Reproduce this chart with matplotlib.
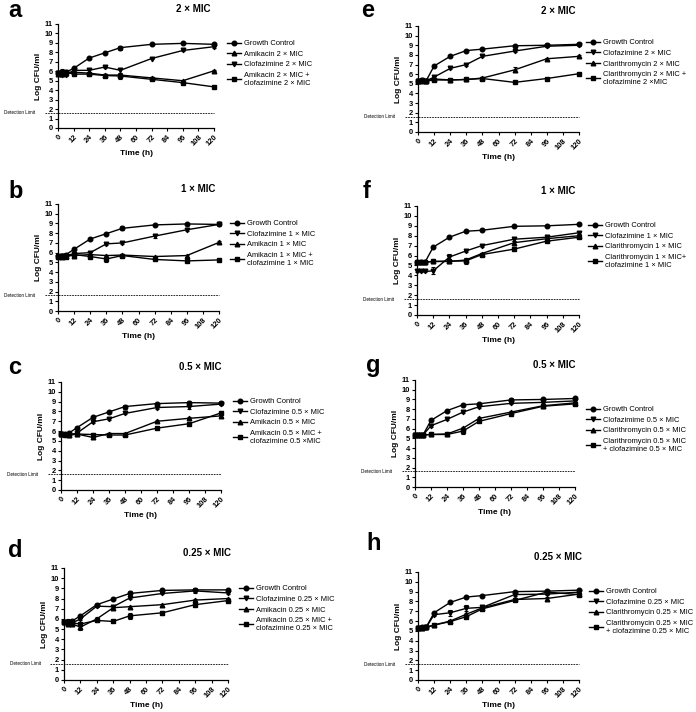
import numpy as np
import matplotlib
matplotlib.use("Agg")
import matplotlib.pyplot as plt
from matplotlib.lines import Line2D

plt.rcParams['font.family'] = ['Liberation Sans', 'DejaVu Sans']

FIG_W, FIG_H = 696, 712
TIME_H = [0, 3, 6, 12, 24, 36, 48, 72, 96, 120]
X_TICKS = list(range(0, 121, 12))
Y_TICKS = list(range(0, 12))
DETECTION_LIMIT = 1.6

# ---- panel a : amikacin / clofazimine 2 x MIC ----
A_GC = [5.8, 5.8, 5.9, 6.3, 7.4, 7.95, 8.5, 8.85, 8.95, 8.85]
A_GC_ERR = [0.15, 0.1, 0.1, 0.15, 0.1, 0.1, 0.2, 0.1, 0.1, 0.1]
A_AMK = [5.7, 5.7, 5.8, 5.9, 5.8, 5.6, 5.6, 5.3, 5.0, 6.05]
A_AMK_ERR = [0.1, 0.1, 0.1, 0.1, 0.1, 0.1, 0.1, 0.1, 0.1, 0.05]
A_CFZ = [5.8, 5.6, 5.6, 6.1, 6.1, 6.45, 6.1, 7.35, 8.2, 8.6]
A_CFZ_ERR = [0.15, 0.1, 0.1, 0.1, 0.15, 0.1, 0.25, 0.1, 0.1, 0.1]
A_CMB = [5.8, 5.9, 5.9, 5.7, 5.7, 5.55, 5.5, 5.15, 4.8, 4.35]
A_CMB_ERR = [0.15, 0.3, 0.15, 0.1, 0.15, 0.15, 0.35, 0.1, 0.1, 0.1]

# ---- panel b : 1 x MIC ----
B_GC = [5.7, 5.7, 5.8, 6.35, 7.4, 7.95, 8.5, 8.85, 8.95, 8.9]
B_GC_ERR = [0.1, 0.1, 0.1, 0.1, 0.1, 0.1, 0.2, 0.1, 0.1, 0.15]
B_CFZ = [5.6, 5.7, 5.7, 5.9, 6.0, 6.9, 7.0, 7.7, 8.35, 8.9]
B_CFZ_ERR = [0.3, 0.1, 0.1, 0.1, 0.15, 0.1, 0.1, 0.2, 0.1, 0.1]
B_AMK = [5.7, 5.6, 5.7, 5.7, 5.8, 5.7, 5.75, 5.6, 5.7, 7.05]
B_AMK_ERR = [0.1, 0.1, 0.1, 0.1, 0.1, 0.1, 0.1, 0.1, 0.1, 0.1]
B_CMB = [5.6, 5.7, 5.6, 5.8, 5.6, 5.35, 5.7, 5.3, 5.15, 5.25]
B_CMB_ERR = [0.3, 0.2, 0.2, 0.1, 0.15, 0.3, 0.1, 0.1, 0.1, 0.1]

# ---- panel c : 0.5 x MIC ----
C_GC = [5.7, 5.7, 5.8, 6.35, 7.4, 7.95, 8.5, 8.8, 8.9, 8.85]
C_GC_ERR = [0.1, 0.1, 0.1, 0.1, 0.1, 0.1, 0.2, 0.1, 0.15, 0.1]
C_CFZ = [5.7, 5.6, 5.6, 5.8, 6.95, 7.25, 7.8, 8.4, 8.5, 8.75]
C_CFZ_ERR = [0.1, 0.1, 0.1, 0.1, 0.1, 0.1, 0.1, 0.1, 0.3, 0.1]
C_AMK = [5.7, 5.7, 5.6, 5.7, 5.35, 5.75, 5.75, 7.0, 7.3, 7.55]
C_AMK_ERR = [0.1, 0.1, 0.1, 0.1, 0.2, 0.1, 0.1, 0.1, 0.1, 0.1]
C_CMB = [5.7, 5.6, 5.6, 5.7, 5.65, 5.6, 5.6, 6.3, 6.75, 7.85]
C_CMB_ERR = [0.15, 0.15, 0.1, 0.1, 0.2, 0.1, 0.15, 0.1, 0.15, 0.2]

# ---- panel d : 0.25 x MIC ----
D_GC = [5.7, 5.7, 5.8, 6.3, 7.4, 7.95, 8.5, 8.8, 8.85, 8.85]
D_GC_ERR = [0.1, 0.1, 0.1, 0.1, 0.1, 0.1, 0.2, 0.1, 0.1, 0.1]
D_CFZ = [5.7, 5.6, 5.6, 6.0, 7.25, 7.2, 8.05, 8.5, 8.75, 8.55]
D_CFZ_ERR = [0.1, 0.1, 0.1, 0.1, 0.1, 0.15, 0.1, 0.1, 0.25, 0.1]
D_AMK = [5.7, 5.5, 5.5, 5.2, 6.0, 7.1, 7.2, 7.4, 7.85, 8.0]
D_AMK_ERR = [0.1, 0.2, 0.2, 0.3, 0.15, 0.1, 0.1, 0.1, 0.1, 0.1]
D_CMB = [5.7, 5.7, 5.6, 5.5, 5.85, 5.75, 6.3, 6.6, 7.4, 7.8]
D_CMB_ERR = [0.1, 0.25, 0.3, 0.1, 0.15, 0.1, 0.3, 0.2, 0.1, 0.15]

# ---- panel e : clarithromycin / clofazimine 2 x MIC ----
E_GC = [5.3, 5.35, 5.3, 6.85, 7.85, 8.45, 8.6, 8.95, 9.0, 9.1]
E_GC_ERR = [0.1, 0.1, 0.1, 0.1, 0.1, 0.1, 0.1, 0.1, 0.1, 0.1]
E_CFZ = [5.3, 5.3, 5.3, 5.7, 6.6, 7.0, 7.85, 8.4, 8.9, 9.0]
E_CFZ_ERR = [0.1, 0.1, 0.1, 0.15, 0.1, 0.1, 0.1, 0.1, 0.1, 0.1]
E_CLR = [5.3, 5.3, 5.3, 5.5, 5.4, 5.45, 5.6, 6.45, 7.6, 7.85]
E_CLR_ERR = [0.1, 0.1, 0.1, 0.1, 0.1, 0.1, 0.1, 0.25, 0.1, 0.1]
E_CMB = [5.3, 5.35, 5.3, 5.4, 5.4, 5.45, 5.55, 5.15, 5.55, 6.05]
E_CMB_ERR = [0.1, 0.1, 0.1, 0.1, 0.1, 0.1, 0.1, 0.1, 0.1, 0.1]

# ---- panel f : 1 x MIC ----
F_GC = [5.3, 5.3, 5.35, 6.85, 7.85, 8.45, 8.55, 8.95, 9.0, 9.15]
F_GC_ERR = [0.1, 0.1, 0.1, 0.1, 0.1, 0.1, 0.1, 0.1, 0.1, 0.1]
F_CFZ = [4.4, 4.4, 4.4, 4.45, 5.85, 6.45, 7.0, 7.65, 7.85, 8.3]
F_CFZ_ERR = [0.1, 0.1, 0.1, 0.35, 0.35, 0.1, 0.1, 0.2, 0.2, 0.1]
F_CLR = [5.3, 5.3, 5.35, 5.4, 5.4, 5.55, 6.2, 7.3, 7.7, 8.0]
F_CLR_ERR = [0.1, 0.1, 0.1, 0.1, 0.1, 0.2, 0.1, 0.2, 0.15, 0.2]
F_CMB = [5.3, 5.35, 5.35, 5.4, 5.45, 5.45, 6.1, 6.65, 7.45, 7.85]
F_CMB_ERR = [0.1, 0.1, 0.1, 0.1, 0.1, 0.3, 0.1, 0.1, 0.1, 0.1]

# ---- panel g : 0.5 x MIC ----
G_GC = [5.3, 5.3, 5.35, 6.85, 7.85, 8.45, 8.55, 8.95, 9.0, 9.1]
G_GC_ERR = [0.1, 0.1, 0.1, 0.1, 0.1, 0.1, 0.1, 0.15, 0.1, 0.1]
G_CFZ = [5.3, 5.3, 5.35, 6.3, 6.95, 7.7, 8.25, 8.6, 8.7, 8.85]
G_CFZ_ERR = [0.1, 0.1, 0.1, 0.1, 0.1, 0.1, 0.1, 0.1, 0.1, 0.1]
G_CLR = [5.3, 5.3, 5.35, 5.4, 5.45, 6.05, 7.05, 7.7, 8.35, 8.65]
G_CLR_ERR = [0.1, 0.1, 0.1, 0.1, 0.1, 0.15, 0.1, 0.15, 0.1, 0.1]
G_CMB = [5.3, 5.3, 5.35, 5.4, 5.4, 5.75, 6.75, 7.55, 8.3, 8.55]
G_CMB_ERR = [0.1, 0.1, 0.1, 0.1, 0.1, 0.3, 0.1, 0.15, 0.1, 0.15]

# ---- panel h : 0.25 x MIC ----
H_GC = [5.3, 5.35, 5.35, 6.85, 7.9, 8.45, 8.6, 9.0, 9.05, 9.15]
H_GC_ERR = [0.1, 0.1, 0.1, 0.1, 0.1, 0.1, 0.1, 0.1, 0.1, 0.1]
H_CFZ = [5.3, 5.3, 5.35, 6.65, 6.85, 7.3, 7.4, 8.7, 8.75, 8.95]
H_CFZ_ERR = [0.1, 0.1, 0.1, 0.15, 0.3, 0.3, 0.1, 0.1, 0.1, 0.1]
H_CLR = [5.3, 5.3, 5.35, 5.6, 6.0, 6.7, 7.35, 8.2, 8.3, 8.75]
H_CLR_ERR = [0.1, 0.1, 0.1, 0.1, 0.1, 0.1, 0.1, 0.1, 0.2, 0.1]
H_CMB = [5.3, 5.3, 5.35, 5.6, 5.95, 6.45, 7.25, 8.1, 8.95, 8.7]
H_CMB_ERR = [0.1, 0.1, 0.1, 0.1, 0.1, 0.15, 0.1, 0.1, 0.15, 0.1]

MARK = {'gc': 'o', 'cfz': 'v', 'drug': '^', 'cmb': 's'}

# panel: (letter, title, axes rect in px [x0, y_top, x1, y_bottom],
#         series list in legend order, letter baseline px, legend offset px)
PANELS = [
    ('a', '2 × MIC', (58, 24, 214, 128),
     [('gc', A_GC, A_GC_ERR, 'Growth Control'),
      ('drug', A_AMK, A_AMK_ERR, 'Amikacin 2 × MIC'),
      ('cfz', A_CFZ, A_CFZ_ERR, 'Clofazimine 2 × MIC'),
      ('cmb', A_CMB, A_CMB_ERR, 'Amikacin 2 × MIC +\nclofazimine 2 × MIC')],
     (8, 17), (13, 16)),
    ('b', '1 × MIC', (58, 204, 219, 311),
     [('gc', B_GC, B_GC_ERR, 'Growth Control'),
      ('cfz', B_CFZ, B_CFZ_ERR, 'Clofazimine 1 × MIC'),
      ('drug', B_AMK, B_AMK_ERR, 'Amikacin 1 × MIC'),
      ('cmb', B_CMB, B_CMB_ERR, 'Amikacin 1 × MIC +\nclofazimine 1 × MIC')],
     (8, 198), (11, 16)),
    ('c', '0.5 × MIC', (61, 382, 221, 490),
     [('gc', C_GC, C_GC_ERR, 'Growth Control'),
      ('cfz', C_CFZ, C_CFZ_ERR, 'Clofazimine 0.5 × MIC'),
      ('drug', C_AMK, C_AMK_ERR, 'Amikacin 0.5 × MIC'),
      ('cmb', C_CMB, C_CMB_ERR, 'Amikacin 0.5 × MIC +\nclofazimine 0.5 ×MIC')],
     (8, 374), (12, 16)),
    ('d', '0.25 × MIC', (64, 568, 228, 680),
     [('gc', D_GC, D_GC_ERR, 'Growth Control'),
      ('cfz', D_CFZ, D_CFZ_ERR, 'Clofazimine 0.25 × MIC'),
      ('drug', D_AMK, D_AMK_ERR, 'Amikacin 0.25 × MIC'),
      ('cmb', D_CMB, D_CMB_ERR, 'Amikacin 0.25 × MIC +\nclofazimine 0.25 × MIC')],
     (8, 557), (11, 17)),
    ('e', '2 × MIC', (418, 26, 579, 132),
     [('gc', E_GC, E_GC_ERR, 'Growth Control'),
      ('cfz', E_CFZ, E_CFZ_ERR, 'Clofazimine 2 × MIC'),
      ('drug', E_CLR, E_CLR_ERR, 'Clarithromycin 2 × MIC'),
      ('cmb', E_CMB, E_CMB_ERR, 'Clarithromycin 2 × MIC +\nclofazimine 2 ×MIC')],
     (361, 17), (7, 13)),
    ('f', '1 × MIC', (417, 206, 579, 315),
     [('gc', F_GC, F_GC_ERR, 'Growth Control'),
      ('cfz', F_CFZ, F_CFZ_ERR, 'Clofazimine 1 × MIC'),
      ('drug', F_CLR, F_CLR_ERR, 'Clarithromycin 1 × MIC'),
      ('cmb', F_CMB, F_CMB_ERR, 'Clarithromycin 1 × MIC+\nclofazimine 1 × MIC')],
     (363, 198), (9, 16)),
    ('g', '0.5 × MIC', (415, 380, 575, 487),
     [('gc', G_GC, G_GC_ERR, 'Growth Control'),
      ('cfz', G_CFZ, G_CFZ_ERR, 'Clofazimime 0.5 × MIC'),
      ('drug', G_CLR, G_CLR_ERR, 'Clarithromycin 0.5 × MIC'),
      ('cmb', G_CMB, G_CMB_ERR, 'Clarithromycin 0.5 × MIC\n+ clofazimine 0.5 × MIC')],
     (366, 372), (11, 26)),
    ('h', '0.25 × MIC', (418, 572, 579, 680),
     [('gc', H_GC, H_GC_ERR, 'Growth Control'),
      ('cfz', H_CFZ, H_CFZ_ERR, 'Clofazimine 0.25 × MIC'),
      ('drug', H_CLR, H_CLR_ERR, 'Clarithromycin 0.25 × MIC'),
      ('cmb', H_CMB, H_CMB_ERR, 'Clarithromycin 0.25 × MIC\n+ clofazimine 0.25 × MIC')],
     (366, 550), (10, 16)),
]


def draw_panel(fig, letter, title, rect, series, letter_xy, leg_off):
    x0, yt, x1, yb = rect
    w, h = x1 - x0, yb - yt
    ax = fig.add_axes([x0 / FIG_W, 1 - yb / FIG_H, w / FIG_W, h / FIG_H])

    handles = []
    for kind, vals, errs, label in series:
        ax.errorbar(TIME_H, vals, yerr=errs, color='black', lw=1.0,
                    marker=MARK[kind], markersize=3.3, capsize=1.6,
                    elinewidth=0.8, capthick=0.8, clip_on=False, zorder=3)
        handles.append(Line2D([], [], color='black', lw=1.0,
                              marker=MARK[kind], markersize=3.3, label=label))

    # detection limit, drawn a little past the y axis
    ax.plot([-10, 120], [DETECTION_LIMIT] * 2, color='black', lw=0.6,
            ls=(0, (2, 1.2)), clip_on=False, zorder=2)
    ax.text(-23 / w, DETECTION_LIMIT, 'Detection Limit', fontsize=3.3,
            ha='right', va='center', transform=ax.get_yaxis_transform())

    ax.set_xlim(0, 120)
    ax.set_ylim(0, 11)
    ax.set_xticks(X_TICKS)
    ax.set_yticks(Y_TICKS)
    ax.set_xticklabels([str(t) for t in X_TICKS], rotation=45, ha='right',
                       va='top', rotation_mode='anchor', fontweight='bold',
                       fontsize=5.4)
    ax.set_yticklabels([str(t) for t in Y_TICKS], fontweight='bold',
                       fontsize=5.4)
    ax.tick_params(length=2.5, width=0.8, pad=1.2)
    for side in ('top', 'right'):
        ax.spines[side].set_visible(False)
    for side in ('left', 'bottom'):
        ax.spines[side].set_linewidth(0.9)

    ax.set_xlabel('Time (h)', fontweight='bold', fontsize=6, labelpad=2)
    ax.set_ylabel('Log CFU/ml', fontweight='bold', fontsize=6, labelpad=2)

    ax.text(0.87, 1 + 15 / h, title, transform=ax.transAxes, ha='center',
            va='center', fontweight='bold', fontsize=7)
    fig.text(letter_xy[0] / FIG_W, 1 - letter_xy[1] / FIG_H, letter,
             fontsize=17, fontweight='bold', ha='left', va='baseline')

    dx, dy = leg_off
    ax.legend(handles=handles, loc='upper left',
              bbox_to_anchor=(1 + dx / w, 1 - dy / h),
              frameon=False, fontsize=5.4, borderpad=0, borderaxespad=0,
              handlelength=1.8, handletextpad=0.5, labelspacing=0.45)
    return ax


fig = plt.figure(figsize=(FIG_W / 100, FIG_H / 100), dpi=100)
for letter, title, rect, series, letter_xy, leg_off in PANELS:
    draw_panel(fig, letter, title, rect, series, letter_xy, leg_off)

fig.savefig('out.png', dpi=100)
